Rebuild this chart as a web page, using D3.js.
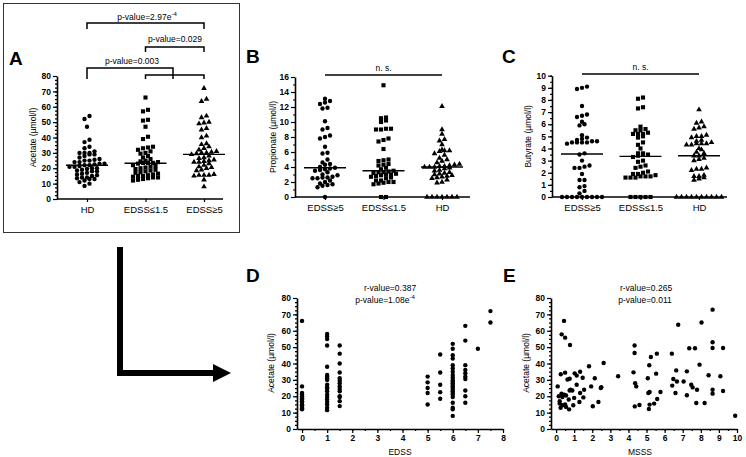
<!DOCTYPE html>
<html>
<head>
<meta charset="utf-8">
<script src="https://cdn.jsdelivr.net/npm/d3@7"></script>
<style>
  body { margin: 0; background: #fff; }
  text { font-family: "Liberation Sans", Arial, sans-serif; fill: #000; }
  .domain { stroke: #000; stroke-width: 1.6; }
  .tick line { stroke: #000; stroke-width: 1.2; }
</style>
</head>
<body>
<script>

//Panel A: acetate by group
var catsA = ["HD", "EDSS\u22641.5", "EDSS\u22655"];
var acetateHD = [54, 52, 47, 38.5, 37, 34, 33, 31, 30, 30, 30, 29, 29, 28, 27, 26, 25.5, 25, 25, 24, 24, 23, 23, 22.5, 22, 22, 21.5, 21, 21, 20, 20, 19.5, 19, 18.5, 18, 18, 17, 16.5, 16, 15.5, 15, 14, 14, 13.5, 13, 13, 12, 11, 10, 8.5];
var acetateLow = [66, 58, 57, 51.5, 51, 47, 40.5, 39, 34, 33.5, 33, 32, 31, 30, 29.5, 28, 27, 26, 25, 24.5, 24, 23.5, 23.5, 23.5, 23, 22, 21.5, 21, 20.5, 20, 19.5, 19, 18.5, 18, 17.5, 17, 16.5, 16, 15.5, 15, 15, 14.5, 14, 14, 13.5, 13, 12.5, 12];
var acetateHigh = [72, 65, 63.5, 54, 53, 50, 49.5, 49, 46, 45, 41, 40, 36, 35.5, 34, 33, 32, 31, 30.5, 30, 30, 29.5, 29, 28, 27, 26.5, 25.5, 25, 24.5, 24, 24, 23, 22, 21, 20.5, 20, 19, 18.5, 16, 15.5, 15.5, 15.5, 15, 12.5, 8];
var ticksA = [0, 10, 20, 30, 40, 50, 60, 70, 80];

//Panel B: propionate
var catsBC = ["EDSS\u22655", "EDSS\u22641.5", "HD"];
var propHigh = [13.1, 12.8, 12.6, 12.4, 11.9, 11.8, 10.1, 9.2, 9.0, 8.2, 8.0, 7.8, 6.7, 5.9, 5.8, 5.0, 4.6, 4.4, 4.3, 4.0, 3.9, 3.8, 3.7, 3.6, 3.5, 3.3, 3.0, 2.9, 2.7, 2.6, 2.6, 2.5, 2.5, 2.2, 2.0, 1.8, 1.7, 1.6, 1.5, 1.3, 0];
var propLow = [14.9, 10.6, 10.5, 10.2, 10.0, 9.1, 9.1, 9.0, 9.0, 7.8, 7.6, 7.4, 6.4, 5.0, 4.9, 4.8, 4.4, 4.3, 4.2, 3.9, 3.7, 3.5, 3.4, 3.3, 3.3, 3.2, 3.1, 3.0, 3.0, 2.9, 2.8, 2.7, 2.6, 2.5, 2.2, 2.2, 2.0, 2.0, 1.9, 1.8, 1.7, 0, 0];
var propHD = [12.1, 9.0, 8.4, 7.7, 7.5, 7.0, 6.3, 6.2, 6.2, 6.1, 5.8, 5.6, 5.2, 5.0, 4.8, 4.6, 4.4, 4.3, 4.2, 4.1, 4.1, 4.0, 4.0, 4.0, 3.9, 3.8, 3.6, 3.5, 3.3, 3.2, 3.1, 3.0, 2.9, 2.8, 2.7, 2.6, 2.5, 2.3, 2.0, 1.9, 0, 0, 0, 0, 0, 0, 0];
var ticksB = [0, 2, 4, 6, 8, 10, 12, 14, 16];

//Panel C: butyrate
var butHigh = [9.1, 9.0, 8.9, 7.5, 6.8, 6.7, 6.6, 6.2, 6.0, 5.9, 5.1, 4.9, 4.8, 4.7, 4.6, 4.6, 4.5, 4.5, 4.5, 4.5, 4.4, 3.6, 3.5, 3.0, 2.6, 2.5, 2.4, 2.4, 1.9, 1.4, 1.4, 0.9, 0.8, 0.5, 0.3, 0, 0, 0, 0, 0, 0, 0, 0, 0];
var butLow = [8.2, 8.1, 7.4, 7.3, 5.8, 5.6, 5.5, 5.5, 5.3, 5.2, 5.2, 5.2, 5.0, 4.9, 4.5, 4.3, 4.0, 3.6, 3.6, 3.5, 3.5, 3.4, 3.3, 3.0, 2.9, 2.6, 2.5, 2.4, 2.1, 2.0, 1.9, 1.9, 1.8, 1.7, 1.7, 1.7, 1.6, 1.6, 1.6, 0, 0, 0, 0, 0];
var butHD = [7.2, 6.2, 6.1, 5.8, 5.7, 5.6, 5.1, 5.0, 5.0, 4.9, 4.7, 4.6, 4.5, 4.4, 4.4, 4.4, 4.3, 4.3, 4.0, 3.9, 3.7, 3.6, 3.4, 3.4, 3.2, 3.1, 3.0, 2.4, 2.3, 2.3, 2.2, 1.8, 1.7, 1.7, 1.6, 1.5, 1.4, 0, 0, 0, 0, 0, 0, 0, 0, 0, 0];
var ticksC = [0, 1, 2, 3, 4, 5, 6, 7, 8, 9, 10];

//Panel D: acetate vs EDSS
var edss = [0,0,0,0,0,0,0,0,0,0,0,0,0,0,0,0,
  1,1,1,1,1,1,1,1,1,1,1,1,1,1,1,1,1,1,1,1,
  1.5,1.5,1.5,1.5,1.5,1.5,1.5,1.5,1.5,1.5,1.5,1.5,1.5,1.5,
  5,5,5,5,5, 5.5,5.5,5.5,5.5,5.5,
  6,6,6,6,6,6,6,6,6,6,6,6,6,6,6,6,6,6,6,6,6,6,6,6,
  6.5,6.5,6.5,6.5,6.5,6.5,6.5,6.5,6.5,6.5, 7, 7.5,7.5];
var acetateD = [66,26,22,21,20,19,18.5,18,17,16,15,14.5,14,13,12.5,12,
  58,56.5,55,51,38,33,32,31,30,27,25.5,24.5,23,21,19.5,18,16.5,15,13,11.5,
  51,46,40,34.5,31,29.5,28,26,24.5,23,20,19.5,17,14,
  32,28.5,25,22,15, 45.5,34.5,27,22.5,18.5,
  52,49,45,43,39,37,35,33,31.5,30,29,28,27,26,25,24,23,22,21,19.5,16,13,12,8,
  63,54,39,36,34,32,30.5,23.5,20,16, 49, 72,65];
var ticksD = [0, 1, 2, 3, 4, 5, 6, 7, 8];

//Panel E: acetate vs MSSS
var msss = [0.44,0.31,0.5,0.77,2.63,1.82,1.33,0.5,0.26,1.03,1.47,0.75,0.63,2.14,0.09,0.8,0.9,1.55,1.94,2.47,2.5,
  0.15,0.2,0.2,0.25,0.3,0.35,0.35,0.45,0.5,0.55,0.55,0.7,0.72,0.75,0.95,1.0,1.29,1.33,1.14,1.14,1.51,2.03,2.34,
  3.43,4.28,4.34,4.34,4.37,4.43,4.35,4.61,5.07,5.15,5.24,5.1,5.17,5.13,5.17,5.42,5.53,5.57,5.59,5.77,
  6.4,6.42,6.48,6.6,6.64,6.68,6.75,7.05,7.23,7.23,7.36,7.47,7.55,7.68,7.75,7.79,7.93,8.04,8.21,8.43,
  8.65,8.65,8.65,8.65,8.65,9.08,9.23,9.23,9.9];
var acetateE = [66,57.8,55.8,51.3,40.3,38.3,35,34.4,33.4,34,31.3,30.7,30.2,31,26,24,23.5,24,26,25,25.5,
  20,17,15.5,13,21.5,19.5,14.5,21,15,20.5,13.5,18,12,23.5,14.5,19,16.5,22,32.6,27,19.3,13.9,16.5,
  32.2,34.6,51,46.4,28,26,13.8,14.7,31,38.9,44,22,22.6,12.2,14.9,15.5,33.8,46,18.3,22.6,
  46,26.5,30.5,22,35.8,29,63.7,29,20.6,35.2,49.3,27,25.4,49.3,15.9,24,39.3,65,15.9,32.8,
  72.9,53,49.5,24,21.6,32.2,49.5,23.2,8.1];
var ticksE = [0, 1, 2, 3, 4, 5, 6, 7, 8, 9, 10];

var svgContainer = d3.select("body").append("svg")
  .attr("width", 746)
  .attr("height", 457);

//box around panel A
svgContainer.append("rect")
  .attr("x", 3.5).attr("y", 3.5).attr("width", 236).attr("height", 229)
  .attr("fill", "none").attr("stroke", "#333").attr("stroke-width", 1);

//spread points of one column sideways so they do not overlap
function dodge(vals, y, cx, dx, dy) {
  var pts = vals.map(function (v) { return { v: v, y: y(v) }; })
    .sort(function (a, b) { return b.y - a.y; });
  var rows = [], cur = null;
  pts.forEach(function (d) {
    if (!cur || cur[0].y - d.y > dy) { cur = [d]; rows.push(cur); }
    else cur.push(d);
  });
  rows.forEach(function (r) {
    r.forEach(function (d, i) { d.x = cx + (i - (r.length - 1) / 2) * dx; });
  });
  return pts;
}

function yAxis(y, x, ticks, minorStep, fmt) {
  var g = svgContainer.append("g").attr("transform", "translate(" + x + ",0)");
  var dom = y.domain();
  g.call(d3.axisLeft(y).tickValues(d3.range(dom[0], dom[1] + 1e-6, minorStep))
      .tickSize(2).tickFormat("").tickSizeOuter(0));
  g.select(".domain").remove();
  var g2 = svgContainer.append("g").attr("transform", "translate(" + x + ",0)");
  g2.call(d3.axisLeft(y).tickValues(ticks).tickSize(4).tickSizeOuter(0).tickPadding(2)
      .tickFormat(fmt || d3.format("d")));
  g2.selectAll("text").attr("font-size", 8.5).attr("font-weight", "bold");
}

function yTitle(label, x, cy) {
  svgContainer.append("text")
    .attr("transform", "translate(" + x + "," + cy + ") rotate(-90)")
    .attr("text-anchor", "middle")
    .attr("font-size", 8.5)
    .text(label);
}

function panelLetter(t, x, y) {
  svgContainer.append("text").attr("x", x).attr("y", y)
    .attr("font-size", 19).attr("font-weight", "bold").text(t);
}

var shapes = {
  circle: d3.symbol().type(d3.symbolCircle).size(15),
  square: d3.symbol().type(d3.symbolSquare).size(17),
  triangle: d3.symbol().type(d3.symbolTriangle).size(14)
};

function dotPanel(o) {
  var y = d3.scaleLinear().domain([0, o.max]).range([o.y0, o.y1]);
  var x = d3.scalePoint().domain(o.cats).range([o.x0 + 30, o.x0 + 147]);
  //x axis line and category ticks
  var gx = svgContainer.append("g").attr("transform", "translate(0," + o.y0 + ")");
  gx.call(d3.axisBottom(x).tickSize(3).tickSizeOuter(0).tickPadding(4));
  gx.select(".domain").attr("d", "M" + o.x0 + ",0H" + o.x1);
  gx.selectAll("text").attr("font-size", 9.5);
  yAxis(y, o.x0, o.ticks, o.minor, o.fmt);
  yTitle(o.title, o.titleX, (o.y0 + o.y1) / 2);

  o.groups.forEach(function (vals, i) {
    var cx = x(o.cats[i]);
    var pts = dodge(vals, y, cx, 5, 3.4);
    svgContainer.append("g").selectAll("path")
      .data(pts).enter().append("path")
      .attr("d", shapes[o.shapes[i]])
      .attr("transform", function (d) { return "translate(" + d.x + "," + d.y + ")"; })
      .attr("fill", "#000");
    var med = d3.median(vals);
    svgContainer.append("line")
      .attr("x1", cx - 21).attr("x2", cx + 21)
      .attr("y1", y(med)).attr("y2", y(med))
      .attr("stroke", "#000").attr("stroke-width", 1.4);
  });
  return x;
}

function label(txt, x, y, sup) {
  var t = svgContainer.append("text").attr("x", x).attr("y", y)
    .attr("text-anchor", "middle").attr("font-size", 8.5).text(txt);
  if (sup) t.append("tspan").attr("dy", -4).attr("font-size", 6).text(sup);
  return t;
}

function bracket(x1, x2, yTop, yBot, mid) {
  var p = "M" + x1 + "," + yBot + "V" + yTop + "H" + x2 + "V" + yBot;
  if (mid) p += "M" + mid[0] + "," + yTop + "V" + mid[1];
  svgContainer.append("path").attr("d", p)
    .attr("fill", "none").attr("stroke", "#000").attr("stroke-width", 1.5);
}

//A
panelLetter("A", 9, 65);
var xA = dotPanel({ cats: catsA, groups: [acetateHD, acetateLow, acetateHigh],
  shapes: ["circle", "square", "triangle"], max: 80, y0: 199, y1: 76,
  x0: 57, x1: 223, ticks: ticksA, minor: 2.5, title: "Acetate (\u00b5mol/l)", titleX: 36 });
bracket(xA(catsA[0]), xA(catsA[2]), 23, 29);
label("p-value=2.97e", 147, 20, "-4");
bracket(xA(catsA[1]), xA(catsA[2]), 47, 52);
label("p-value=0.029", 175, 42);
bracket(xA(catsA[1]), xA(catsA[2]), 75, 79, [173, 75]);
bracket(xA(catsA[0]), 173, 68, 79);
label("p-value=0.003", 132, 64);

//B
panelLetter("B", 246, 63);
var xB = dotPanel({ cats: catsBC, groups: [propHigh, propLow, propHD],
  shapes: ["circle", "square", "triangle"], max: 16, y0: 197, y1: 77,
  x0: 295, x1: 470, ticks: ticksB, minor: 1, title: "Propionate (\u00b5mol/l)", titleX: 276 });
svgContainer.append("line").attr("x1", xB(catsBC[0])).attr("x2", xB(catsBC[2]))
  .attr("y1", 75).attr("y2", 75).attr("stroke", "#000").attr("stroke-width", 1.5);
label("n. s.", (xB(catsBC[0]) + xB(catsBC[2])) / 2, 71);

//C
panelLetter("C", 502, 63);
var xC = dotPanel({ cats: catsBC, groups: [butHigh, butLow, butHD],
  shapes: ["circle", "square", "triangle"], max: 10, y0: 197, y1: 75.7,
  x0: 552, x1: 727, ticks: ticksC, minor: 0.5, title: "Butyrate (\u00b5mol/l)", titleX: 531 });
svgContainer.append("line").attr("x1", xC(catsBC[0])).attr("x2", xC(catsBC[2]))
  .attr("y1", 74).attr("y2", 74).attr("stroke", "#000").attr("stroke-width", 1.5);
label("n. s.", (xC(catsBC[0]) + xC(catsBC[2])) / 2, 70);

//scatter panels
function scatterPanel(o) {
  var x = d3.scaleLinear().domain(o.xDom).range([o.x0, o.x1]);
  var y = d3.scaleLinear().domain([0, 80]).range([429, 298]);
  var gx = svgContainer.append("g").attr("transform", "translate(0,429)");
  gx.call(d3.axisBottom(x).tickValues(d3.range(0, o.xDom[1] + 1e-6, 0.5))
      .tickSize(2).tickFormat("").tickSizeOuter(0));
  var gx2 = svgContainer.append("g").attr("transform", "translate(0,429)");
  gx2.call(d3.axisBottom(x).tickValues(o.ticks).tickSize(4).tickSizeOuter(0).tickPadding(2)
      .tickFormat(d3.format("d")));
  gx2.select(".domain").remove();
  gx2.selectAll("text").attr("font-size", 8.5).attr("font-weight", "bold");
  yAxis(y, o.x0, ticksA, 2.5);
  yTitle("Acetate (\u00b5mol/l)", o.titleX, 363);
  svgContainer.append("text").attr("x", o.xTitleX).attr("y", 455)
    .attr("text-anchor", "middle").attr("font-size", 8.5).text(o.xTitle);
  svgContainer.append("g").selectAll("circle")
    .data(o.xs).enter().append("circle")
    .attr("cx", function (d) { return x(d); })
    .attr("cy", function (d, i) { return y(o.ys[i]); })
    .attr("r", 2.2)
    .attr("fill", "#000");
}

//D
panelLetter("D", 246, 282);
scatterPanel({ xs: edss, ys: acetateD, xDom: [-0.2, 8], x0: 297, x1: 503,
  ticks: ticksD, titleX: 274, xTitle: "EDSS", xTitleX: 400 });
label("r-value=0.387", 390, 291);
label("p-value=1.08e", 385, 303, "-4");

//E
panelLetter("E", 503, 282);
scatterPanel({ xs: msss, ys: acetateE, xDom: [-0.28, 10], x0: 551, x1: 737,
  ticks: ticksE, titleX: 529, xTitle: "MSSS", xTitleX: 640 });
label("r-value=0.265", 646, 291);
label("p-value=0.011", 645, 303);

//arrow from A down to D/E
svgContainer.append("path")
  .attr("d", "M120,247V373H214")
  .attr("fill", "none").attr("stroke", "#000").attr("stroke-width", 6);
svgContainer.append("path")
  .attr("d", "M213,364L231,373L213,382Z")
  .attr("fill", "#000");

</script>
</body>
</html>
